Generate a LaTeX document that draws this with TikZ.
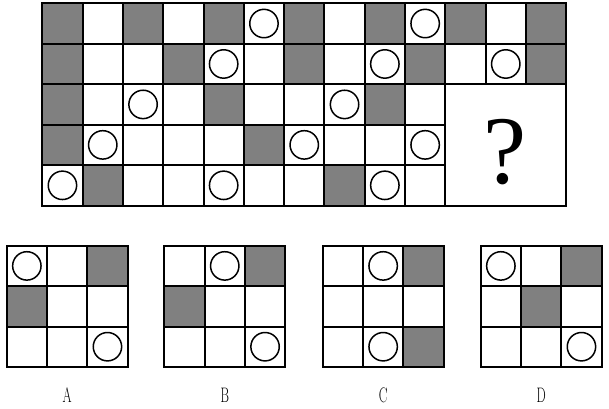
\documentclass[tikz,border=0pt]{standalone}
\usepackage{fontspec}
\usepackage{graphicx}
\newfontfamily\qfont{Liberation Serif}
\definecolor{shade}{HTML}{808080}
\tikzset{
 cell/.style={draw=black, line width=2pt, minimum width=40.3pt, minimum height=40.4pt, inner sep=0pt, outer sep=0pt},
 cellW/.style={fill=white},
 cellG/.style={fill=shade},
 cellO/.style={fill=white, path picture={\draw[line width=1.5pt] (path picture bounding box.center) circle (14.2pt);}},
 qmark/.style={inner sep=0pt, font=\qfont\fontsize{97}{97}\selectfont},
 optlabel/.style={font=\fontsize{21}{21}\selectfont, anchor=base, inner sep=0pt}
}
\newcommand\optgrid[3]{%
 \foreach \t [count=\k from 0] in {#3} {
  \pgfmathtruncatemacro\rr{div(\k,3)}
  \pgfmathtruncatemacro\cc{mod(\k,3)}
  \node[cell, cell\t] (#2-\k) at ({#1+(\cc+0.5)*40.3},{245.7+(\rr+0.5)*40.4}) {};
 }
 \node[optlabel] (lab#2) at ({#1+60.5},402) {\scalebox{0.62}[1]{#2}};
}
\begin{document}
\begin{tikzpicture}[x=1pt,y=-1pt]
\useasboundingbox (0,0) rectangle (609,408);
\foreach \rowlist [count=\r] in {{G,W,G,W,G,O,G,W,G,O,G,W,G},{G,W,W,G,O,W,G,W,O,G,W,O,G},{G,W,O,W,G,W,W,O,G,W},{G,O,W,W,W,G,O,W,W,O},{O,G,W,W,O,W,W,G,O,W}}{
 \foreach \t [count=\c] in \rowlist {
  \node[cell, cell\t] (m-\r-\c) at ({42.3+(\c-0.5)*40.3},{3.3+(\r-0.5)*40.45}) {};
 }
}
\node[cell, minimum width=120.9pt, minimum height=121.35pt] (qb) at ({42.3+11.5*40.3},{3.3+3.5*40.45}) {};
\node[qmark, anchor=base] (q) at (505,183) {?};
\optgrid{6.7}{A}{O,W,G,G,W,W,W,W,O}
\optgrid{164.3}{B}{W,O,G,G,W,W,W,W,O}
\optgrid{322.7}{C}{W,O,G,W,W,W,W,O,G}
\optgrid{480.7}{D}{O,W,G,W,G,W,W,W,O}
\end{tikzpicture}
\end{document}
